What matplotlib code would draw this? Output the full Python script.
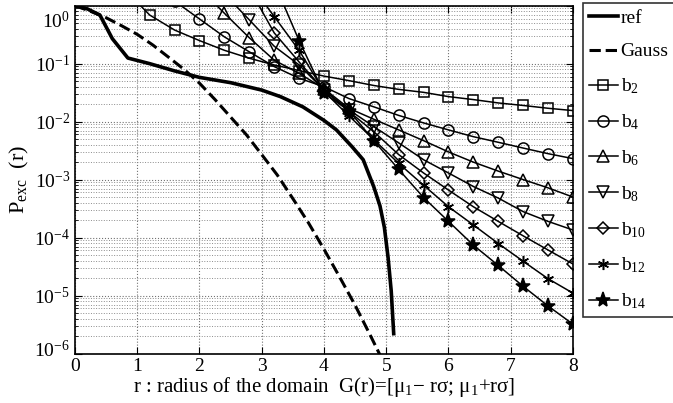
import numpy as np
import matplotlib
matplotlib.use("Agg")
import matplotlib.pyplot as plt
from matplotlib.transforms import ScaledTranslation

plt.rcParams['font.family'] = 'serif'
plt.rcParams['font.serif'] = ['Liberation Serif', 'DejaVu Serif']
plt.rcParams['mathtext.fontset'] = 'custom'
plt.rcParams['mathtext.rm'] = 'Liberation Serif'
plt.rcParams['mathtext.it'] = 'Liberation Serif:italic'
plt.rcParams['mathtext.default'] = 'regular'

# reference curve
r_ref = [0, 0.2, 0.4, 0.6, 0.85, 1.2, 1.6, 2.0, 2.5, 3.0, 3.3, 3.66, 4.0, 4.2,
         4.45, 4.63, 4.8, 4.9, 4.97, 5.03, 5.08, 5.12]
p_ref = [1.0, 0.88, 0.69, 0.27, 0.125, 0.10, 0.075, 0.058, 0.047, 0.035, 0.027,
         0.018, 0.0105, 0.0072, 0.0037, 0.0022, 0.00075, 0.00035, 0.00015,
         4.5e-5, 1.2e-5, 2.2e-6]

# gaussian curve
r_gauss = [0, 0.25, 0.5, 0.75, 1.0, 1.25, 1.5, 1.75, 2.0, 2.25, 2.5, 2.75, 3.0,
           3.25, 3.5, 3.75, 4.0, 4.25, 4.5, 4.75, 5.0]
p_gauss = [1.0, 0.80, 0.62, 0.45, 0.32, 0.21, 0.13, 0.080, 0.046, 0.024, 0.012,
           0.006, 0.0027, 0.0012, 4.7e-4, 1.8e-4, 6.3e-5, 2.1e-5, 6.8e-6, 2.0e-6,
           5.7e-7]

r_b = [0.0, 0.4, 0.8, 1.2, 1.6, 2.0, 2.4, 2.8, 3.2, 3.6, 4.0, 4.4, 4.8, 5.2,
       5.6, 6.0, 6.4, 6.8, 7.2, 7.6, 8.0]
nan = np.nan
b2 = [nan, nan, 1.9, 0.69, 0.38, 0.25, 0.17, 0.124, 0.095, 0.076, 0.061, 0.051,
      0.042, 0.036, 0.032, 0.027, 0.024, 0.021, 0.019, 0.017, 0.0155]
b4 = [nan, nan, nan, nan, 1.2, 0.59, 0.29, 0.16, 0.089, 0.056, 0.040, 0.025,
      0.018, 0.0128, 0.0095, 0.0072, 0.0055, 0.0044, 0.0035, 0.0028, 0.0023]
b6 = [nan, nan, nan, nan, nan, 2.0, 0.74, 0.28, 0.115, 0.068, 0.037, 0.017,
      0.011, 0.0072, 0.0047, 0.003, 0.002, 0.0014, 0.001, 7.2e-4, 5e-4]
b8 = [nan, nan, nan, nan, nan, nan, 1.6, 0.57, 0.2, 0.095, 0.035, 0.016,
      0.0082, 0.0043, 0.0022, 0.0013, 7.6e-4, 4.8e-4, 2.8e-4, 1.9e-4, 1.35e-4]
b10 = [nan, nan, nan, nan, nan, nan, nan, 2.0, 0.34, 0.107, 0.035, 0.015,
       0.0067, 0.0027, 0.0013, 6.6e-4, 3.4e-4, 1.9e-4, 1.07e-4, 6.1e-5, 3.5e-5]
b12 = [nan, nan, nan, nan, nan, nan, nan, 2.5, 0.65, 0.17, 0.033, 0.0126,
       0.0049, 0.0019, 8.0e-4, 3.4e-4, 1.65e-4, 7.9e-5, 3.9e-5, 1.95e-5, 1.1e-5]
b14 = [nan, nan, nan, nan, nan, nan, nan, nan, 2.5, 0.25, 0.031, 0.0155,
       0.0047, 0.0015, 4.9e-4, 1.9e-4, 7.4e-5, 3.3e-5, 1.44e-5, 6.6e-6, 3.2e-6]

b_series = [b2, b4, b6, b8, b10, b12, b14]
b_labels = ['b$_2$', 'b$_4$', 'b$_6$', 'b$_8$', 'b$_{10}$', 'b$_{12}$', 'b$_{14}$']
b_markers = ['s', 'o', '^', 'v', 'D', (6, 2, 0), '*']
b_msize = [7, 8, 8, 8, 6, 8, 11]

fig = plt.figure(figsize=(6.73, 4.03), dpi=100)
ax = fig.add_axes([0.1114, 0.1228, 0.74, 0.8631])

ax.semilogy(r_ref, p_ref, 'k-', lw=2.6, label='ref')
ax.semilogy(r_gauss, p_gauss, 'k--', lw=2.2, label='Gauss')
for vals, lab, mk, ms in zip(b_series, b_labels, b_markers, b_msize):
    ax.semilogy(r_b, vals, color='k', lw=1.1, marker=mk, ms=ms,
                mfc='k' if mk in ['*', (6, 2, 0)] else 'none', mec='k',
                mew=1.1, label=lab)

ax.set_xlim(0, 8)
ax.set_ylim(1e-6, 1)
ax.set_xticks(range(9))
ax.set_yticks([1e-6, 1e-5, 1e-4, 1e-3, 1e-2, 1e-1, 1e0])
ax.grid(True, which='major', axis='both', ls=':', color='0.45', lw=0.8)
ax.grid(True, which='minor', axis='y', ls=':', color='0.55', lw=0.7)
ax.tick_params(which='both', direction='in', top=True, right=True, labelsize=14)
ax.tick_params(which='major', length=5)
ax.tick_params(which='minor', length=2.5)
for s in ax.spines.values():
    s.set_linewidth(1.2)

ax.set_xlabel('r : radius of the domain  G(r)=[\u03bc$_1$\u2212 r\u03c3; \u03bc$_1$+r\u03c3]',
              fontsize=15, labelpad=0)
ax.set_ylabel('P$_{exc}$  (r)', fontsize=16, labelpad=2)

# shift the end labels like the original
ylabs = ax.get_yticklabels()
ylabs[-1].set_transform(ylabs[-1].get_transform() + ScaledTranslation(0, -14 / 100, fig.dpi_scale_trans))
ylabs[0].set_transform(ylabs[0].get_transform() + ScaledTranslation(0, 5 / 100, fig.dpi_scale_trans))

leg = fig.legend(loc='upper left', bbox_to_anchor=(0.866, 0.992), fontsize=14,
                 frameon=True, fancybox=False, edgecolor='k', handlelength=1.5,
                 handletextpad=0.15, labelspacing=0.83, borderpad=0.3,
                 borderaxespad=0)
leg.get_frame().set_linewidth(1.2)

fig.savefig('out.png', dpi=100)
